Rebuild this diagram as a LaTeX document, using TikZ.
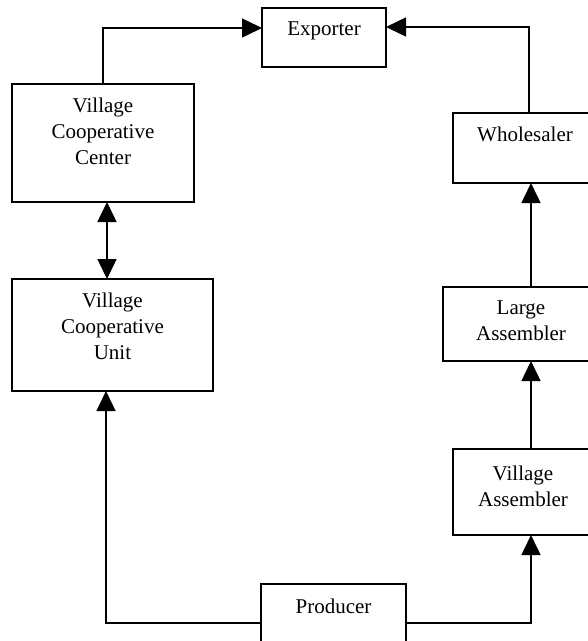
\documentclass[tikz,border=0pt]{standalone}
\usepackage{fontspec}
\setmainfont{Liberation Serif}
\usetikzlibrary{arrows.meta,positioning}
\begin{document}
\begin{tikzpicture}[x=1pt,y=-1pt,
  box/.style={draw, line width=1.5pt, anchor=north west, inner sep=0pt, outer sep=0pt},
  lbl/.style={align=center, inner sep=0pt, anchor=north, font=\fontsize{21}{26}\selectfont},
  link/.style={line width=1.5pt},
  arr/.style={link, -{Triangle[length=20pt,width=19pt]}},
  biarr/.style={link, {Triangle[length=20pt,width=19pt]}-{Triangle[length=20pt,width=19pt]}}]
\useasboundingbox (0,0) rectangle (588,641);
\clip (0,0) rectangle (588,641);

% boxes
\node[box, minimum width=124pt, minimum height=59pt]  (exp) at (262,8)   {};
\node[box, minimum width=182pt, minimum height=118pt] (vcc) at (12,84)   {};
\node[box, minimum width=201pt, minimum height=112pt] (vcu) at (12,279)  {};
\node[box, minimum width=144pt, minimum height=70pt]  (whs) at (453,113) {};
\node[box, minimum width=156pt, minimum height=74pt]  (la)  at (443,287) {};
\node[box, minimum width=140pt, minimum height=86pt]  (va)  at (453,449) {};
\node[box, minimum width=145pt, minimum height=70pt]  (pro) at (261,584) {};

% labels, set near the top of each box
\node[lbl, below=14pt of exp.north] (expT) {Exporter};
\node[lbl, below=14pt of vcc.north] (vccT) {Village\\Cooperative\\Center};
\node[lbl, below=14pt of vcu.north] (vcuT) {Village\\Cooperative\\Unit};
\node[lbl, below=14pt of whs.north] (whsT) {Wholesaler};
\node[lbl, below=14pt of la.north]  (laT)  {Large\\Assembler};
\node[lbl, below=17pt of va.north]  (vaT)  {Village\\Assembler};
\node[lbl, below=15pt of pro.north] (proT) {Producer};

% routing columns for the lower connectors
\coordinate (lc) at (106,623);
\coordinate (rc) at (531,623);

% connectors
\draw[arr] (vcc.north) |- ([yshift=-20pt]exp.north west);
\draw[arr] ([xshift=4pt]whs.north) |- ([yshift=-19pt]exp.north east);
\draw[biarr] ([xshift=4pt]vcc.south) -- ([xshift=4pt]vcc.south |- vcu.north);
\draw[arr] (la.north -| rc) -- (whs.south -| rc);
\draw[arr] (va.north -| rc) -- (la.south -| rc);
\draw[arr] (pro.west |- lc) -| (vcu.south -| lc);
\draw[arr] (pro.east |- rc) -| (va.south -| rc);
\end{tikzpicture}
\end{document}
